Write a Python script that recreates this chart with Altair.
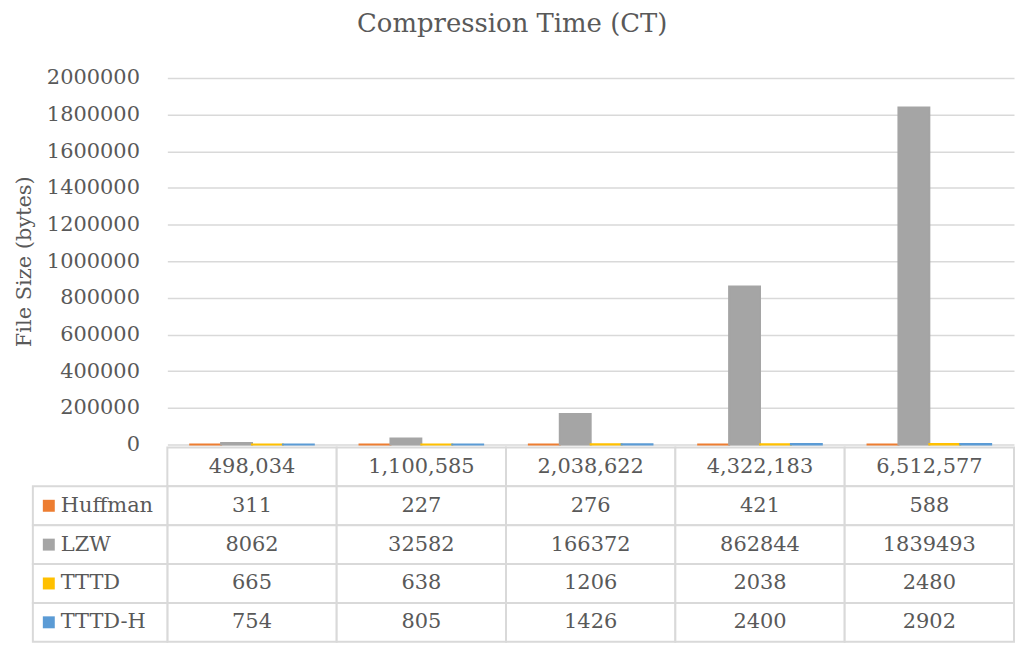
import altair as alt
import pandas as pd

# File sizes tested (column headers of the data table)
file_sizes = ["498,034", "1,100,585", "2,038,622", "4,322,183", "6,512,577"]
methods = ["Huffman", "LZW", "TTTD", "TTTD-H"]

# Compression time per method, one value per file size
huffman = [311, 227, 276, 421, 588]
lzw = [8062, 32582, 166372, 862844, 1839493]
tttd = [665, 638, 1206, 2038, 2480]
tttd_h = [754, 805, 1426, 2400, 2902]

colors = ["#ED7D31", "#A5A5A5", "#FFC000", "#5B9BD5"]
y_ticks = [0, 200000, 400000, 600000, 800000, 1000000,
           1200000, 1400000, 1600000, 1800000, 2000000]

FONT = "DejaVu Serif"
TEXT = "#595959"
GRID = "#d9d9d9"
HEADER = "header"

series = dict(zip(methods, [huffman, lzw, tttd, tttd_h]))
records = []
for m, vals in series.items():
    for f, v in zip(file_sizes, vals):
        records.append({"file": f, "method": m, "value": v})
bars_df = pd.DataFrame(records)

cells = [{"file": f, "row": HEADER, "label": f} for f in file_sizes]
cells += [{"file": r["file"], "row": r["method"], "label": str(r["value"])} for r in records]
cells_df = pd.DataFrame(cells)
legend_df = pd.DataFrame({"row": methods, "method": methods})

color_scale = alt.Scale(domain=methods, range=colors)

# ---- clustered columns ----
bars = alt.Chart(bars_df).mark_bar(strokeWidth=2).encode(
    x=alt.X("file:N", sort=file_sizes,
            scale=alt.Scale(domain=file_sizes, paddingInner=0.27, paddingOuter=0.135),
            axis=None),
    xOffset=alt.XOffset("method:N", sort=methods,
                        scale=alt.Scale(domain=methods, paddingInner=0, paddingOuter=0)),
    y=alt.Y("value:Q",
            scale=alt.Scale(domain=[0, 2000000], nice=False),
            axis=alt.Axis(values=y_ticks, format="d", title="File Size (bytes)",
                          domain=False, ticks=False, labelPadding=28,
                          labelFont=FONT, labelFontSize=21, labelColor=TEXT,
                          titleFont=FONT, titleFontSize=21, titleFontWeight="normal",
                          titleColor=TEXT, titlePadding=12,
                          grid=True, gridColor=GRID, gridWidth=1.5)),
    color=alt.Color("method:N", scale=color_scale, legend=None),
    stroke=alt.Stroke("method:N", scale=color_scale, legend=None),
).properties(width=850, height=368)

# ---- data table underneath ----
x_tab = alt.X("file:N", sort=file_sizes,
              scale=alt.Scale(domain=file_sizes, paddingInner=0, paddingOuter=0),
              axis=None)
y_tab = alt.Y("row:N", sort=[HEADER] + methods,
              scale=alt.Scale(domain=[HEADER] + methods, paddingInner=0, paddingOuter=0),
              axis=None)

grid_cells = alt.Chart(cells_df).mark_rect(fill="white", stroke=GRID, strokeWidth=2).encode(
    x=x_tab, y=y_tab)
cell_text = alt.Chart(cells_df).mark_text(font=FONT, fontSize=21, color=TEXT).encode(
    x=x_tab, y=y_tab, text="label:N")

legend_frame = alt.Chart(legend_df).mark_rect(fill="white", stroke=GRID, strokeWidth=2).encode(
    x=alt.value(-135), x2=alt.value(0), y=y_tab)
legend_keys = alt.Chart(legend_df).mark_square(size=144, opacity=1).encode(
    x=alt.value(-119), y=y_tab,
    color=alt.Color("method:N", scale=color_scale, legend=None))
legend_text = alt.Chart(legend_df).mark_text(font=FONT, fontSize=21, color=TEXT, align="left").encode(
    x=alt.value(-107), y=y_tab, text="method:N")

table = alt.layer(grid_cells, cell_text, legend_frame, legend_keys, legend_text).properties(
    width=850, height=195)

chart = alt.vconcat(bars, table, spacing=3, bounds="flush").properties(
    title=alt.TitleParams("Compression Time (CT)", font=FONT, fontSize=26,
                          fontWeight="normal", color=TEXT, anchor="middle",
                          offset=30, dx=-2),
    padding={"left": 12, "top": 9, "right": 0, "bottom": 0},
).configure_view(stroke="transparent")

chart.save("out.html", embed_options={"renderer": "svg", "actions": False})
